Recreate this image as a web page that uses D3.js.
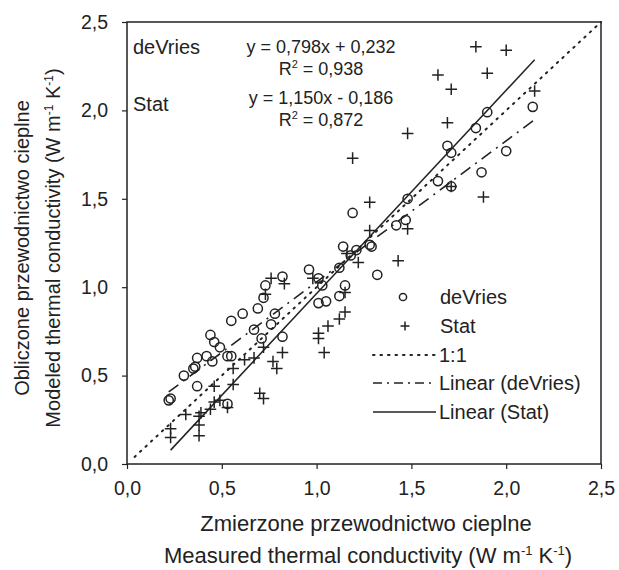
<!DOCTYPE html>
<html>
<head>
<meta charset="utf-8">
<script src="https://d3js.org/d3.v7.min.js"></script>
<style>
  body { margin: 0; background: #fff; }
  text { font-family: "Liberation Sans", Arial, sans-serif; fill: #222; }
</style>
</head>
<body>
<div id="chart"></div>
<script>
// deVries model points [measured, modeled]
const deVriesX = [0.22, 0.23, 0.30, 0.35, 0.36, 0.37, 0.37, 0.42, 0.45, 0.44, 0.46, 0.49, 0.53, 0.55, 0.53,
  0.55, 0.61, 0.69, 0.67, 0.71, 0.73, 0.72, 0.78, 0.76, 0.82, 0.82, 0.96, 1.01, 1.03, 1.01, 1.05, 1.12,
  1.12, 1.15, 1.14, 1.18, 1.21, 1.28, 1.29, 1.32, 1.19, 1.42, 1.47, 1.48, 1.64, 1.71, 1.69, 1.71, 1.84,
  1.90, 2.14, 2.00, 1.87];
const deVriesY = [0.36, 0.37, 0.50, 0.54, 0.55, 0.44, 0.60, 0.61, 0.58, 0.73, 0.69, 0.66, 0.61, 0.61, 0.34,
  0.81, 0.85, 0.88, 0.76, 0.71, 1.01, 0.94, 0.85, 0.79, 0.72, 1.06, 1.10, 1.05, 1.01, 0.91, 0.92, 1.11,
  0.95, 1.01, 1.23, 1.18, 1.21, 1.24, 1.23, 1.07, 1.42, 1.35, 1.38, 1.50, 1.60, 1.57, 1.80, 1.76, 1.90,
  1.99, 2.02, 1.77, 1.65];

// Stat model points
const statX = [0.23, 0.23, 0.31, 0.38, 0.39, 0.38, 0.38, 0.44, 0.46, 0.49, 0.53, 0.46, 0.56, 0.56, 0.62,
  0.67, 0.72, 0.70, 0.72, 0.77, 0.79, 0.82, 0.76, 0.73, 0.83, 0.98, 1.01, 1.01, 1.06, 1.04, 1.12, 1.15,
  1.15, 1.16, 1.22, 1.28, 1.28, 1.48, 1.43, 1.19, 1.48, 1.69, 1.71, 1.88, 1.84, 2.00, 1.90, 1.64, 1.71, 2.15];
const statY = [0.20, 0.15, 0.28, 0.27, 0.29, 0.22, 0.16, 0.31, 0.35, 0.36, 0.32, 0.44, 0.45, 0.54, 0.59,
  0.60, 0.66, 0.40, 0.37, 0.58, 0.54, 0.63, 1.05, 0.96, 1.02, 1.05, 0.74, 0.71, 0.78, 0.63, 0.82, 0.86,
  0.97, 1.19, 1.14, 1.32, 1.48, 1.33, 1.15, 1.73, 1.87, 1.93, 1.57, 1.51, 2.36, 2.34, 2.21, 2.20, 2.12, 2.11];

const ticks = [0, 0.5, 1.0, 1.5, 2.0, 2.5];
const devFit = { a: 0.798, b: 0.232, x0: 0.22, x1: 2.15 };
const statFit = { a: 1.150, b: -0.186, x0: 0.23, x1: 2.15 };

const W = 619, H = 570;
const margin = { top: 22, right: 18, bottom: 106, left: 127 };
const width = W - margin.left - margin.right,
      height = H - margin.top - margin.bottom;
const ink = "#222";

const svg = d3.select("#chart").append("svg")
    .attr("width", W).attr("height", H);
const g = svg.append("g")
    .attr("transform", `translate(${margin.left},${margin.top})`);

const x = d3.scaleLinear().domain([0, 2.5]).range([0, width]);
const y = d3.scaleLinear().domain([0, 2.5]).range([height, 0]);
const fmt = d => d3.format(".1f")(d).replace(".", ",");

// axes
const xAxis = g.append("g")
    .attr("transform", `translate(0,${height})`)
    .call(d3.axisBottom(x).tickValues(ticks).tickFormat(fmt).tickSize(5).tickPadding(12));
const yAxis = g.append("g")
    .call(d3.axisLeft(y).tickValues(ticks).tickFormat(fmt).tickSize(5).tickPadding(14));
[xAxis, yAxis].forEach(a => {
  a.select(".domain").remove();
  a.selectAll("line").attr("stroke", ink).attr("stroke-width", 1.2);
  a.selectAll("text").style("font-size", "19.5px").style("font-family", "Liberation Sans, Arial, sans-serif").attr("fill", ink);
});

// frame
g.append("rect")
    .attr("width", width).attr("height", height)
    .attr("fill", "none").attr("stroke", ink).attr("stroke-width", 1.5);

// lines
const line = d3.line().x(d => x(d[0])).y(d => y(d[1]));
g.append("path")
    .attr("d", line([[0.04, 0.04], [2.5, 2.5]]))
    .attr("fill", "none").attr("stroke", ink).attr("stroke-width", 2)
    .attr("stroke-dasharray", "1.5,6").attr("stroke-linecap", "round");
g.append("path")
    .attr("d", line([[devFit.x0, devFit.a * devFit.x0 + devFit.b], [devFit.x1, devFit.a * devFit.x1 + devFit.b]]))
    .attr("fill", "none").attr("stroke", ink).attr("stroke-width", 1.6)
    .attr("stroke-dasharray", "12,6,2,6");
g.append("path")
    .attr("d", line([[statFit.x0, statFit.a * statFit.x0 + statFit.b], [statFit.x1, statFit.a * statFit.x1 + statFit.b]]))
    .attr("fill", "none").attr("stroke", ink).attr("stroke-width", 1.5);

// points
const crossPath = (cx, cy, s) => `M${cx - s},${cy}H${cx + s}M${cx},${cy - s}V${cy + s}`;

g.append("g").selectAll("circle")
  .data(d3.zip(deVriesX, deVriesY))
  .join("circle")
    .attr("cx", d => x(d[0])).attr("cy", d => y(d[1]))
    .attr("r", 4.6)
    .attr("fill", "none").attr("stroke", ink).attr("stroke-width", 1.5);

g.append("g").selectAll("path")
  .data(d3.zip(statX, statY))
  .join("path")
    .attr("d", d => crossPath(x(d[0]), y(d[1]), 5.8))
    .attr("stroke", ink).attr("stroke-width", 1.5);

// annotations
const ann = g.append("g").style("font-size", "20px");
ann.append("text").attr("x", 6).attr("y", 32).text("deVries");
ann.append("text").attr("x", 6).attr("y", 89).text("Stat");
const eq = ann.append("g").attr("text-anchor", "middle").style("font-size", "18px");
eq.append("text").attr("x", 194).attr("y", 31).text("y = 0,798x + 0,232");
eq.append("text").attr("x", 194).attr("y", 53).html('R<tspan dy="-7" font-size="11">2</tspan><tspan dy="7"> = 0,938</tspan>');
eq.append("text").attr("x", 194).attr("y", 82).text("y = 1,150x - 0,186");
eq.append("text").attr("x", 194).attr("y", 104).html('R<tspan dy="-7" font-size="11">2</tspan><tspan dy="7"> = 0,872</tspan>');

// legend
const lg = g.append("g").attr("transform", "translate(246,275)").style("font-size", "20px");
lg.append("circle").attr("cx", 30).attr("cy", 0).attr("r", 3.6)
    .attr("fill", "none").attr("stroke", ink).attr("stroke-width", 1.5);
lg.append("text").attr("x", 67).attr("y", 7).text("deVries");
lg.append("path").attr("d", crossPath(32, 29, 4.5)).attr("stroke", ink).attr("stroke-width", 1.5);
lg.append("text").attr("x", 67).attr("y", 36).text("Stat");
const legLines = [
  { y: 58, dash: "1.5,6", w: 2, cap: "round", label: "1:1" },
  { y: 86, dash: "9,5,2,5", w: 1.5, cap: "butt", label: "Linear (deVries)" },
  { y: 115, dash: null, w: 1.5, cap: "butt", label: "Linear (Stat)" }
];
legLines.forEach(l => {
  lg.append("line").attr("x1", 0).attr("x2", 63).attr("y1", l.y).attr("y2", l.y)
    .attr("stroke", ink).attr("stroke-width", l.w)
    .attr("stroke-dasharray", l.dash).attr("stroke-linecap", l.cap);
  lg.append("text").attr("x", 66).attr("y", l.y + 7).text(l.label);
});

// axis titles
const titles = svg.append("g").attr("text-anchor", "middle");
titles.append("text").attr("x", 366).attr("y", 531).style("font-size", "22px")
  .text("Zmierzone przewodnictwo cieplne");
titles.append("text").attr("x", 368).attr("y", 563).style("font-size", "22px")
  .html('Measured thermal conductivity (W m<tspan dy="-8" font-size="13">-1</tspan><tspan dy="8"> K</tspan><tspan dy="-8" font-size="13">-1</tspan><tspan dy="8">)</tspan>');
titles.append("text").attr("transform", "translate(29,248) rotate(-90)").style("font-size", "20px")
  .text("Obliczone przewodnictwo cieplne");
titles.append("text").attr("transform", "translate(60,248) rotate(-90)").style("font-size", "20px")
  .html('Modeled  thermal conductivity (W m<tspan dy="-7" font-size="12">-1</tspan><tspan dy="7"> K</tspan><tspan dy="-7" font-size="12">-1</tspan><tspan dy="7">)</tspan>');
</script>
</body>
</html>
